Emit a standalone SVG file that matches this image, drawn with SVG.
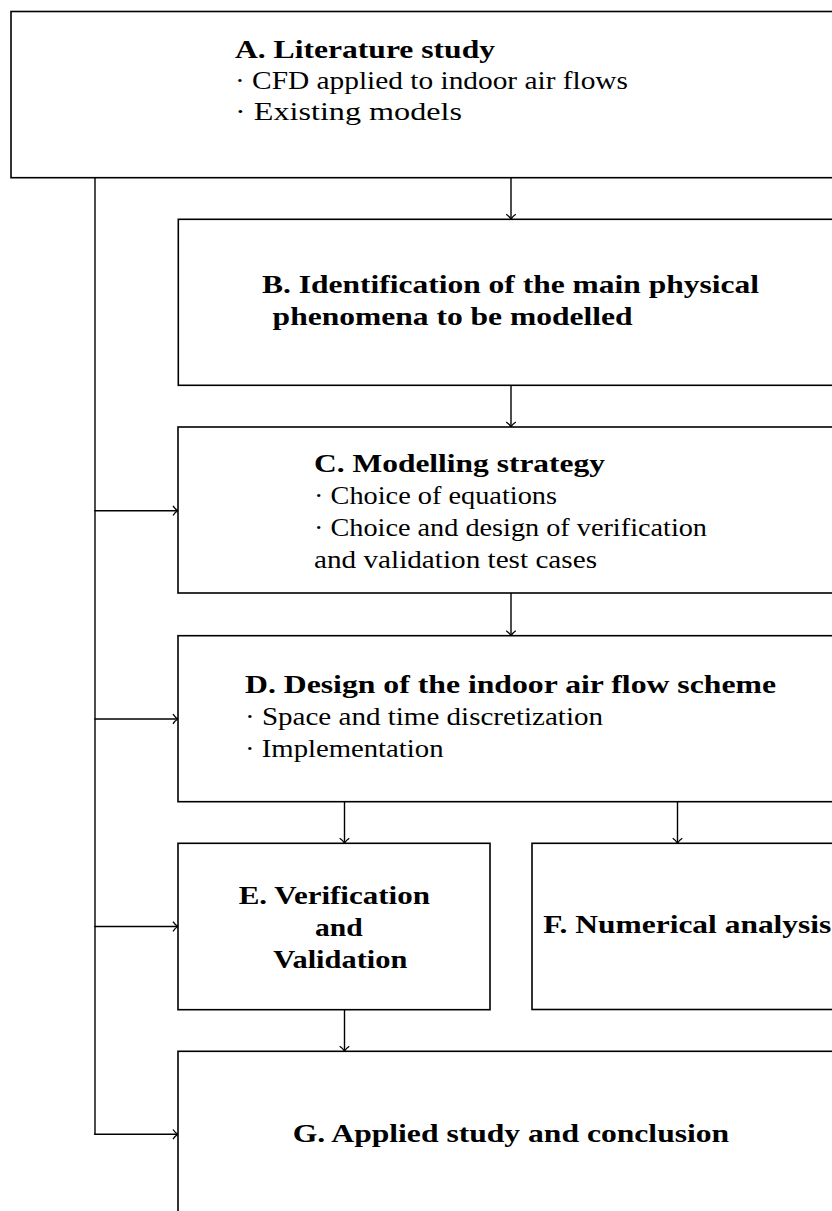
<svg xmlns="http://www.w3.org/2000/svg" width="832" height="1211" viewBox="0 0 832 1211">
<style>
.box{fill:#fff;stroke:#000;stroke-width:1.6}
.con{fill:none;stroke:#000;stroke-width:1.4}
.t{font-family:"Liberation Serif","Times New Roman",serif;font-size:26px;fill:#000}
.b{font-weight:bold}
</style>
<defs>
<marker id="arr" markerUnits="userSpaceOnUse" markerWidth="14" markerHeight="14" viewBox="-7 -7 14 14" refX="0" refY="0" orient="auto" overflow="visible">
<path d="M-5,-4.8 C-3.4,-2.3 -1.2,-0.6 0,0 C-1.2,0.6 -3.4,2.3 -5,4.8" fill="none" stroke="#000" stroke-width="1.3"/>
</marker>
</defs>
<rect width="832" height="1211" fill="#fff"/>
<g id="connectors">
<line class="con" x1="511" y1="177.7" x2="511" y2="219.3" marker-end="url(#arr)"/>
<line class="con" x1="511" y1="385.3" x2="511" y2="427" marker-end="url(#arr)"/>
<line class="con" x1="511" y1="593" x2="511" y2="635.7" marker-end="url(#arr)"/>
<line class="con" x1="344.5" y1="801.7" x2="344.5" y2="843.3" marker-end="url(#arr)"/>
<line class="con" x1="677.5" y1="801.7" x2="677.5" y2="843.3" marker-end="url(#arr)"/>
<line class="con" x1="344.5" y1="1009.7" x2="344.5" y2="1051.3" marker-end="url(#arr)"/>
<line class="con" x1="95" y1="177.7" x2="95" y2="1135"/>
<line class="con" x1="94.3" y1="510.7" x2="178" y2="510.7" marker-end="url(#arr)"/>
<line class="con" x1="94.3" y1="719" x2="178" y2="719" marker-end="url(#arr)"/>
<line class="con" x1="94.3" y1="926.5" x2="178" y2="926.5" marker-end="url(#arr)"/>
<line class="con" x1="94.3" y1="1134.3" x2="178" y2="1134.3" marker-end="url(#arr)"/>
</g>
<g id="nodeA">
<rect class="box" x="11" y="11.5" width="840" height="166.2"/>
<text class="t b" x="235" y="57.5" textLength="260" lengthAdjust="spacingAndGlyphs">A. Literature study</text>
<text class="t" x="235" y="88.5" textLength="393" lengthAdjust="spacingAndGlyphs">· CFD applied to indoor air flows</text>
<text class="t" x="235" y="119.5" textLength="227" lengthAdjust="spacingAndGlyphs">· Existing models</text>
</g>
<g id="nodeB">
<rect class="box" x="178.3" y="219.3" width="680" height="166"/>
<text class="t b" x="262" y="293.3" textLength="497" lengthAdjust="spacingAndGlyphs">B. Identification of the main physical</text>
<text class="t b" x="272.6" y="324.5" textLength="360" lengthAdjust="spacingAndGlyphs">phenomena to be modelled</text>
</g>
<g id="nodeC">
<rect class="box" x="178" y="427" width="680" height="166"/>
<text class="t b" x="314" y="472.3" textLength="291" lengthAdjust="spacingAndGlyphs">C. Modelling strategy</text>
<text class="t" x="314" y="504.3" textLength="243" lengthAdjust="spacingAndGlyphs">· Choice of equations</text>
<text class="t" x="314" y="535.7" textLength="393" lengthAdjust="spacingAndGlyphs">· Choice and design of verification</text>
<text class="t" x="314" y="568.3" textLength="283" lengthAdjust="spacingAndGlyphs">and validation test cases</text>
</g>
<g id="nodeD">
<rect class="box" x="178" y="635.7" width="680" height="166"/>
<text class="t b" x="245" y="692.7" textLength="531" lengthAdjust="spacingAndGlyphs">D. Design of the indoor air flow scheme</text>
<text class="t" x="245" y="725" textLength="358" lengthAdjust="spacingAndGlyphs">· Space and time discretization</text>
<text class="t" x="245" y="756.7" textLength="198.5" lengthAdjust="spacingAndGlyphs">· Implementation</text>
</g>
<g id="nodeE">
<rect class="box" x="178" y="843.3" width="312" height="166.4"/>
<text class="t b" x="238.7" y="904.3" textLength="191.3" lengthAdjust="spacingAndGlyphs">E. Verification</text>
<text class="t b" x="315" y="936" textLength="47.7" lengthAdjust="spacingAndGlyphs">and</text>
<text class="t b" x="273.3" y="967.7" textLength="134" lengthAdjust="spacingAndGlyphs">Validation</text>
</g>
<g id="nodeF">
<rect class="box" x="532" y="843.3" width="320" height="166.2"/>
<text class="t b" x="543.3" y="933.3" textLength="288" lengthAdjust="spacingAndGlyphs">F. Numerical analysis</text>
</g>
<g id="nodeG">
<rect class="box" x="178" y="1051.3" width="680" height="200"/>
<text class="t b" x="292.7" y="1141.5" textLength="436.5" lengthAdjust="spacingAndGlyphs">G. Applied study and conclusion</text>
</g>
</svg>
